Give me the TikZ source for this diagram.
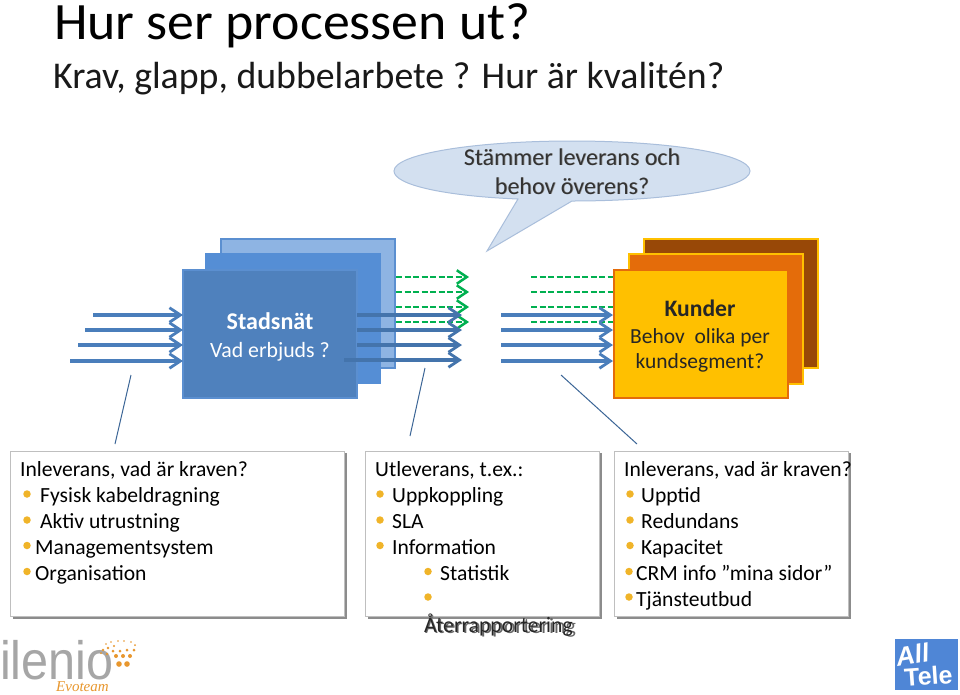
\documentclass[tikz,border=0pt]{standalone}
\usepackage{fontspec}
\setmainfont{Carlito}
\newfontfamily\logofont{Liberation Sans}
\newfontfamily\evofont{Liberation Serif}
\usetikzlibrary{arrows.meta}
\definecolor{bluearrow}{HTML}{4A7EBB}
\definecolor{greenarrow}{HTML}{00B050}
\definecolor{bulletc}{HTML}{F0B429}
\definecolor{backblue}{HTML}{8EB4E3}
\definecolor{midblue}{HTML}{558ED5}
\definecolor{frontblue}{HTML}{4F81BD}
\definecolor{edgeblue}{HTML}{5B8FD0}
\definecolor{amber}{HTML}{FFC000}
\definecolor{darkorange}{HTML}{E46C0A}
\definecolor{brownback}{HTML}{984807}
\definecolor{calloutfill}{HTML}{D3E0F0}
\definecolor{calloutedge}{HTML}{A9BEDB}
\definecolor{logogray}{HTML}{A6A6A6}
\definecolor{logoorange}{HTML}{E8972E}
\definecolor{allblue}{HTML}{4F86D6}
\tikzset{
  x=1pt,y=-1pt,
  bluearr/.style={draw=bluearrow,line width=3.2pt,-{Straight Barb[length=11pt,width=14.5pt,line width=2.8pt]}},
  greenarr/.style={draw=greenarrow,line width=2.6pt,dash pattern=on 6pt off 2.5pt,-{Straight Barb[length=10pt,width=13.5pt,line width=2.5pt]}},
  greenplain/.style={draw=greenarrow,line width=2.6pt,dash pattern=on 6pt off 2.5pt},
  leader/.style={draw=bluearrow!80!black,line width=1pt},
  txt/.style={anchor=base west,inner sep=0pt,font=\fontsize{21.6}{24}\selectfont,text=black},
  centxt/.style={anchor=base,inner sep=0pt,align=center},
  bul/.style={fill=bulletc,circle,inner sep=0pt,minimum size=7.5pt},
  infobox/.style={draw=black!25,fill=white,line width=.8pt,inner sep=0pt},
  infoshadow/.style={fill=black!45,draw=none,inner sep=0pt},
}
\begin{document}
\begin{tikzpicture}
\useasboundingbox (0,0) rectangle (960,694);
\fill[white] (0,0) rectangle (960,694);
% titles
\node[txt,font=\fontsize{52.5}{58}\selectfont,xscale=1.025] (title) at (54,39) {Hur ser processen ut?};
\node[txt,font=\fontsize{37.8}{42}\selectfont,text=black!90] (subtitle) at (53,88) {Krav, glapp, dubbelarbete ? Hur är kvalitén?};
% callout
\path[fill=calloutfill,draw=calloutedge,line width=1pt]
 (487,251) -- (518,199) .. controls (445,196) and (394,185) .. (394,171)
 .. controls (394,154) and (474,141) .. (572,141)
 .. controls (670,141) and (750,154) .. (750,171)
 .. controls (750,188) and (670,201) .. (572,201) -- (487,251) -- cycle;
\foreach \ox/\oc in {.7/black!40,0/black!80}{
 \node[centxt,font=\fontsize{24}{25}\selectfont,text=\oc] at (572+\ox,165+\ox) {Stämmer leverans och};
 \node[centxt,font=\fontsize{24}{25}\selectfont,text=\oc] at (572+\ox,194+\ox) {behov överens?};
}
% left stack
\path[fill=backblue,draw=edgeblue,line width=2.4pt] (221,239) rectangle (395,368);
\path[fill=midblue] (205,253) rectangle (381,384);
\path[fill=frontblue,draw=edgeblue,line width=2.4pt] (183,270) rectangle (357,398);
\node[centxt,font=\bfseries\fontsize{24}{27}\selectfont,text=white] (stad) at (270,329) {Stadsnät};
\node[centxt,font=\fontsize{21.8}{25}\selectfont,text=white] (vad) at (270,357) {Vad erbjuds ?};
% right stack
\path[fill=brownback,draw=amber,line width=2.4pt] (644,239) rectangle (818,368);
\path[fill=darkorange,draw=amber,line width=2.4pt] (629,254) rectangle (803,384);
\path[fill=amber,draw=darkorange,line width=2.4pt] (614,270) rectangle (788,398);
\node[centxt,font=\bfseries\fontsize{23.6}{27}\selectfont,text=black!85] (kun) at (700,316) {Kunder};
\node[centxt,font=\fontsize{21.5}{25}\selectfont,text=black!85] (beh) at (700,343) {Behov\ \ olika per};
\node[centxt,font=\fontsize{21.5}{25}\selectfont,text=black!85] (seg) at (700,368) {kundsegment?};
% green arrows
\foreach \y in {277,292,307,322}{
 \coordinate (ga) at (396,\y); \coordinate (gb) at (469,\y);
 \draw[greenarr] (ga) -- (gb);
 \coordinate (gc) at (531,\y); \coordinate (gd) at (613,\y);
 \draw[greenplain] (gc) -- (gd);
}
% blue arrows
\foreach \s/\y in {93/315,85/330,78/345,70/361}{
 \coordinate (ba) at (\s,\y); \coordinate (bb) at (183,\y);
 \draw[bluearr] (ba) -- (bb);
}
\foreach \s/\y in {357/315,357/330,357/345,344/360}{
 \coordinate (ba) at (\s,\y); \coordinate (bb) at (462,\y);
 \draw[bluearr,draw=bluearrow!92!black] (ba) -- (bb);
}
\foreach \y in {315,330,345,361}{
 \coordinate (ba) at (501,\y); \coordinate (bb) at (613,\y);
 \draw[bluearr] (ba) -- (bb);
}
% leaders
\coordinate (l1a) at (131,375); \coordinate (l1b) at (115,444);
\coordinate (l2a) at (425,368); \coordinate (l2b) at (410,436);
\coordinate (l3a) at (561,375); \coordinate (l3b) at (637,444);
\draw[leader] (l1a) -- (l1b);
\draw[leader] (l2a) -- (l2b);
\draw[leader] (l3a) -- (l3b);
% info boxes
\foreach \a/\b in {10/344,365/599,614/848}{
 \fill[infoshadow] (\a+2.5,453) rectangle (\b+2.5,619);
 \draw[infobox] (\a,451) rectangle (\b,616.5);
}
% box 1
\node[txt] (a0) at (20,476) {Inleverans, vad är kraven?};
\node[bul] (a1b) at (27,494) {}; \node[txt] (a1) at (40,502) {Fysisk kabeldragning};
\node[bul] (a2b) at (27,520) {}; \node[txt] (a2) at (40,528) {Aktiv utrustning};
\node[bul] (a3b) at (27,545.5) {}; \node[txt] (a3) at (35,554) {Managementsystem};
\node[bul] (a4b) at (27,571.5) {}; \node[txt] (a4) at (35,580) {Organisation};
% box 2
\node[txt] (b0) at (375,476) {Utleverans, t.ex.:};
\node[bul] (b1b) at (380,494) {}; \node[txt] (b1) at (392,502) {Uppkoppling};
\node[bul] (b2b) at (380,520) {}; \node[txt] (b2) at (392,528) {SLA};
\node[bul] (b3b) at (380,545.5) {}; \node[txt] (b3) at (392,554) {Information};
\node[bul] (b4b) at (428,571.5) {}; \node[txt] (b4) at (440,580) {Statistik};
\node[bul] (b5b) at (428,597) {};
\node[txt,text=black!60,font=\fontsize{22}{24}\selectfont] (b5s) at (425,633.5) {Återrapportering};
\node[txt,text=black!85,font=\fontsize{22}{24}\selectfont,xscale=.985] (b5) at (424,632) {Återrapportering};
% box 3
\node[txt] (c0) at (624,476) {Inleverans, vad är kraven?};
\node[bul] (c1b) at (630,494) {}; \node[txt] (c1) at (641,502) {Upptid};
\node[bul] (c2b) at (630,520) {}; \node[txt] (c2) at (641,528) {Redundans};
\node[bul] (c3b) at (630,545.5) {}; \node[txt] (c3) at (641,554) {Kapacitet};
\node[bul] (c4b) at (629,571.5) {}; \node[txt] (c4) at (636,580) {CRM info ”mina sidor”};
\node[bul] (c5b) at (629,597) {}; \node[txt] (c5) at (636,606) {Tjänsteutbud};
% ilenio logo
\node[anchor=base west,inner sep=0pt,font=\logofont\fontsize{54}{56}\selectfont,text=logogray,xscale=.9] (ilenio) at (0,679) {ilenio};
\node[anchor=base west,inner sep=0pt,font=\evofont\itshape\fontsize{15}{16}\selectfont,text=logoorange] (evo) at (56,691) {Evoteam};
\foreach \x/\y/\r in {119/664/2.8,127/664/2.8,116/656/2,123/656/2,130/656/2,134/650/1.5,127/650/1.5,120/651/1.5,113/651/1.5,107/654/1.3,103/650/1.3,108/648/1.3,114/646/1.2,101/653/1,135/645/1,131/642/.8,124/641/.8,118/641/.8,111/642/.8,106/644/.8}{
 \fill[logoorange] (\x,\y) circle (\r);
}
% alltele logo
\fill[allblue] (895,639) rectangle (958,690);
\node[anchor=base,inner sep=0pt,font=\logofont\bfseries\itshape\fontsize{26}{28}\selectfont,text=white,rotate=10] (all) at (914,664) {All};
\node[anchor=base,inner sep=0pt,font=\logofont\bfseries\fontsize{25}{28}\selectfont,text=white,rotate=4] (tele) at (929,685) {Tele};
\end{tikzpicture}
\end{document}
